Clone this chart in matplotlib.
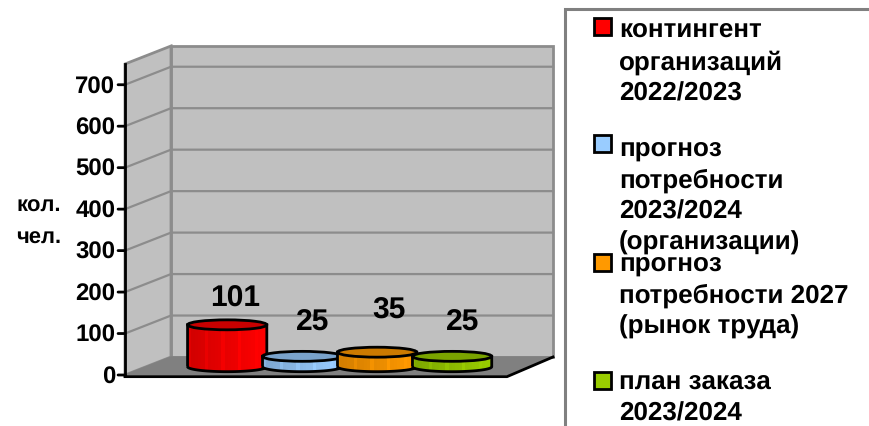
import numpy as np
import matplotlib
matplotlib.use("Agg")
import matplotlib.pyplot as plt
from matplotlib.patches import Ellipse, PathPatch, Polygon, Rectangle
from matplotlib.path import Path
from matplotlib.colors import to_rgb

plt.rcParams['font.family'] = ['Liberation Sans', 'DejaVu Sans']
plt.rcParams['font.weight'] = 'bold'
plt.rcParams['text.hinting'] = 'no_hinting'
plt.rcParams['text.hinting_factor'] = 1

# data
values = [101, 25, 35, 25]
colors = ['#ff0000', '#99ccff', '#ff9900', '#99cc00']
tops = ['#c80000', '#7aa3cc', '#cc7a00', '#7aa300']
yticks = [0, 100, 200, 300, 400, 500, 600, 700]
legend_labels = [
    'контингент\nорганизаций\n2022/2023',
    'прогноз\nпотребности\n2023/2024\n(организации)',
    'прогноз\nпотребности 2027\n(рынок труда)',
    'план заказа\n2023/2024',
]
legend_y = [19, 137, 252, 371]
legend_box_y = [19, 136, 255, 373]
label_dx = [8, 10, 12, 11]
label_dy = [27, 34, 42, 34]

W, H = 869, 427
fig = plt.figure(figsize=(W / 100, H / 100), dpi=100)

# main axes is the front plane of the 3d box
ax = fig.add_axes([125 / W, (H - 376) / H, 382 / W, 311 / H])
ax.set_xlim(-0.5, 3.5)
ax.set_ylim(0, 750)
ax.axis('off')

# depth of the box in data units
xpx = 382 / 4
ypx = 311 / 750
dx = 46 / xpx
dy = 18 / ypx
x0, x1, ytop = -0.5, 3.5, 750

wall = '#c0c0c0'
grid = '#8c8c8c'
ax.add_patch(Polygon([(x0 + dx, dy), (x1 + dx, dy), (x1 + dx, ytop + dy), (x0 + dx, ytop + dy)],
                     fc=wall, ec=grid, lw=2, clip_on=False, zorder=1))
ax.add_patch(Polygon([(x0, 0), (x0 + dx, dy), (x0 + dx, ytop + dy), (x0, ytop)],
                     fc=wall, ec=grid, lw=2, clip_on=False, zorder=1))
ax.add_patch(Polygon([(x0, 0), (x1, 0), (x1 + dx, dy), (x0 + dx, dy)],
                     fc='#808080', ec='#808080', lw=1, clip_on=False, zorder=1))
for t in yticks[1:]:
    ax.plot([x0, x0 + dx, x1 + dx], [t, t + dy, t + dy], color=grid, lw=1.6, clip_on=False, zorder=2)

# black axes
ax.plot([x0, x0], [0, ytop], color='black', lw=2, clip_on=False, zorder=3)
ax.plot([x0, x1, x1 + dx], [-4, -4, dy], color='black', lw=2, clip_on=False, zorder=3)
for t in yticks:
    ax.annotate('', xy=(x0, t), xytext=(-5, 0), textcoords='offset points',
                arrowprops=dict(arrowstyle='-', color='black', lw=2, shrinkA=0, shrinkB=0))
    ax.annotate(str(t), xy=(x0, t), xytext=(-7, -1), textcoords='offset points',
                ha='right', va='center', fontsize=17, fontweight='bold')
for xt in (x0, x1):
    ax.annotate('', xy=(xt, -4), xytext=(0, -6), textcoords='offset points',
                arrowprops=dict(arrowstyle='-', color='black', lw=2, shrinkA=0, shrinkB=0))

fig.text(39 / W, 1 - 206 / H, 'кол.', ha='center', va='center', fontsize=15.5, fontweight='bold')
fig.text(39 / W, 1 - 238 / H, 'чел.', ha='center', va='center', fontsize=15.5, fontweight='bold')

# cylinders
bar_x = 0.57 + 0.785 * np.arange(len(values))
half = 0.415
base = 20
ery = 12


def cylinder(xc, val, col, top, z):
    th = np.linspace(np.pi, 2 * np.pi, 40)
    xs = xc + half * np.cos(th)
    lower = base + ery * np.sin(th)
    pts = list(zip(xs, lower)) + [(xc + half, base + val), (xc - half, base + val), (xc - half, base)]
    body = PathPatch(Path(pts, closed=False), fc='none', ec='black', lw=2, zorder=z + 1, clip_on=False)
    rgb = np.array(to_rgb(col))
    n = 24
    shade = np.linspace(0.82, 1.0, n)
    shade[::5] = np.minimum(shade[::5] + 0.06, 1)
    img = np.clip(shade[None, :, None] * rgb[None, None, :], 0, 1)
    im = ax.imshow(img, extent=[xc - half, xc + half, base - ery, base + val], aspect='auto',
                   zorder=z, interpolation='nearest')
    ax.add_patch(body)
    im.set_clip_path(body)
    ax.add_patch(Ellipse((xc, base + val), 2 * half, 2 * ery, fc=top, ec='black', lw=2,
                         zorder=z + 2, clip_on=False))


for i, (xc, val) in enumerate(zip(bar_x, values)):
    cylinder(xc, val, colors[i], tops[i], 5 + i * 3)
    ax.annotate(str(val), xy=(xc, base + val), xytext=(label_dx[i] * 0.72, label_dy[i] * 0.72),
                textcoords='offset points', ha='center', va='center',
                fontsize=21.5, fontweight='bold', zorder=30)

ax.set_xlim(-0.5, 3.5)
ax.set_ylim(0, 750)

# legend, in pixel coords
lg = fig.add_axes([0, 0, 1, 1], facecolor='none')
lg.set_xlim(0, W)
lg.set_ylim(H, 0)
lg.axis('off')
lg.add_patch(Rectangle((564.5, 10), 400, 500, fc='white', ec='#808080', lw=2.2))
for lab, ty, by, col in zip(legend_labels, legend_y, legend_box_y, colors):
    lg.add_patch(Rectangle((594, by), 17, 17, fc=col, ec='black', lw=2))
    lg.text(619, ty, lab, ha='left', va='top', fontsize=18.8, fontweight='bold', linespacing=1.365)

fig.savefig('out.png', dpi=100)
